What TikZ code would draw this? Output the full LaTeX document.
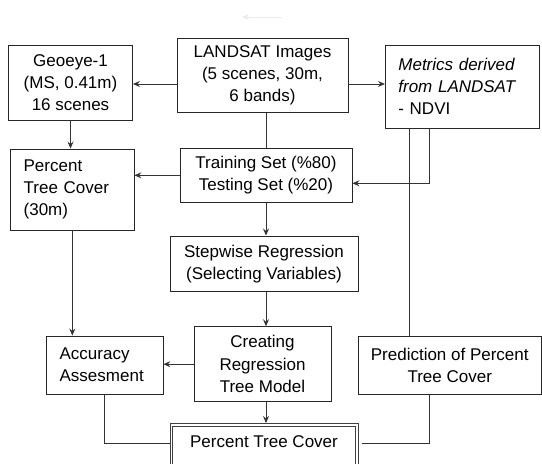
\documentclass[tikz,border=0pt]{standalone}
\usepackage{fontspec}
\setmainfont{Liberation Sans}
\usetikzlibrary{arrows.meta,calc}
\newcommand\boxfont{\fontsize{17}{22.3}\selectfont}
\begin{document}
\begin{tikzpicture}[x=1pt,y=-1pt,
  box/.style={draw=black!85, line width=0.9pt, inner sep=0pt, align=center, font=\boxfont},
  lbox/.style={box, align=left, inner xsep=13pt},
  conn/.style={draw=black!80, line width=0.8pt},
  arr/.style={conn, -{Stealth[length=7pt,width=6pt,inset=2.5pt]}}]
\useasboundingbox (0,0) rectangle (542,464);
\node[box, minimum width=124pt, minimum height=75pt] (geo) at (70.5,82.5) {Geoeye-1\\(MS, 0.41m)\\16 scenes};
\node[box, minimum width=171pt, minimum height=74.4pt] (landsat) at (262.5,75.5) {LANDSAT Images\\(5 scenes, 30m,\\6 bands)};
\node[lbox, minimum width=153.6pt, minimum height=83pt, text width=127.6pt] (metrics) at (462.2,86.5) {\textit{Metrics derived}\\\textit{from LANDSAT}\\- NDVI};
\node[lbox, minimum width=123.3pt, minimum height=81pt, text width=97.3pt] (pct) at (72.3,189.5) {Percent\\Tree Cover\\(30m)};
\node[box, minimum width=172pt, minimum height=54.7pt] (train) at (266,175.3) {Training Set (\%80)\\Testing Set (\%20)};
\node[box, minimum width=188pt, minimum height=55.7pt] (step) at (264,263.8) {Stepwise Regression\\(Selecting Variables)};
\node[box, minimum width=137pt, minimum height=75pt] (creat) at (262.5,364.2) {Creating\\Regression\\Tree Model};
\node[lbox, minimum width=116.3pt, minimum height=58pt, text width=90.3pt] (acc) at (104.8,365) {Accuracy\\Assesment};
\node[box, minimum width=183.5pt, minimum height=57.6pt] (pred) at (449.75,365.5) {Prediction of Percent\\Tree Cover};
\node[draw=black!75, line width=0.7pt, minimum width=188pt, minimum height=44pt,
      anchor=north, inner sep=0pt] (ptc) at (264,423) {};
\node[draw=black!75, line width=0.7pt, minimum width=183pt, minimum height=40pt,
      anchor=north, inner sep=0pt] (ptcin) at (264,425.5) {};
\node[font=\boxfont, inner sep=0pt] (ptctext) at (264,441.5) {Percent Tree Cover};
% faint arrow at top
\coordinate (fa) at (282,17);
\coordinate (fb) at (242,17);
\draw[arr, draw=black!8] (fa) -- (fb);
% connectors
\draw[arr] (landsat.west |- 0,84) -- (geo.east |- 0,84);
\draw[arr] (landsat.east |- 0,84) -- (metrics.west |- 0,84);
\draw[arr] (geo.south) -- (geo.south |- pct.north);
\draw[conn] (train.north |- landsat.south) -- (train.north);
\draw[arr] (train.west) -- (train.west -| pct.east);
\draw[arr] (metrics.south -| 429,0) |- ($(train.east)+(0,8)$);
\draw[conn] (metrics.south -| 409,0) -- (pred.north -| 409,0);
\draw[arr] (train.south) -- (train.south |- step.north);
\draw[arr] (step.south -| train.south) -- (creat.north -| train.south);
\draw[arr] (pct.south) -- (pct.south |- acc.north);
\draw[arr] (creat.west) -- (creat.west -| acc.east);
\draw[arr] (creat.south -| train.south) -- (ptc.north -| train.south);
\draw[conn] (acc.south) |- ($(ptc.north west)+(0,20)$);
\draw[conn, shorten >=4pt] (pred.south -| 429,0) |- ($(ptc.north east)+(0,20)$);
\end{tikzpicture}
\end{document}
